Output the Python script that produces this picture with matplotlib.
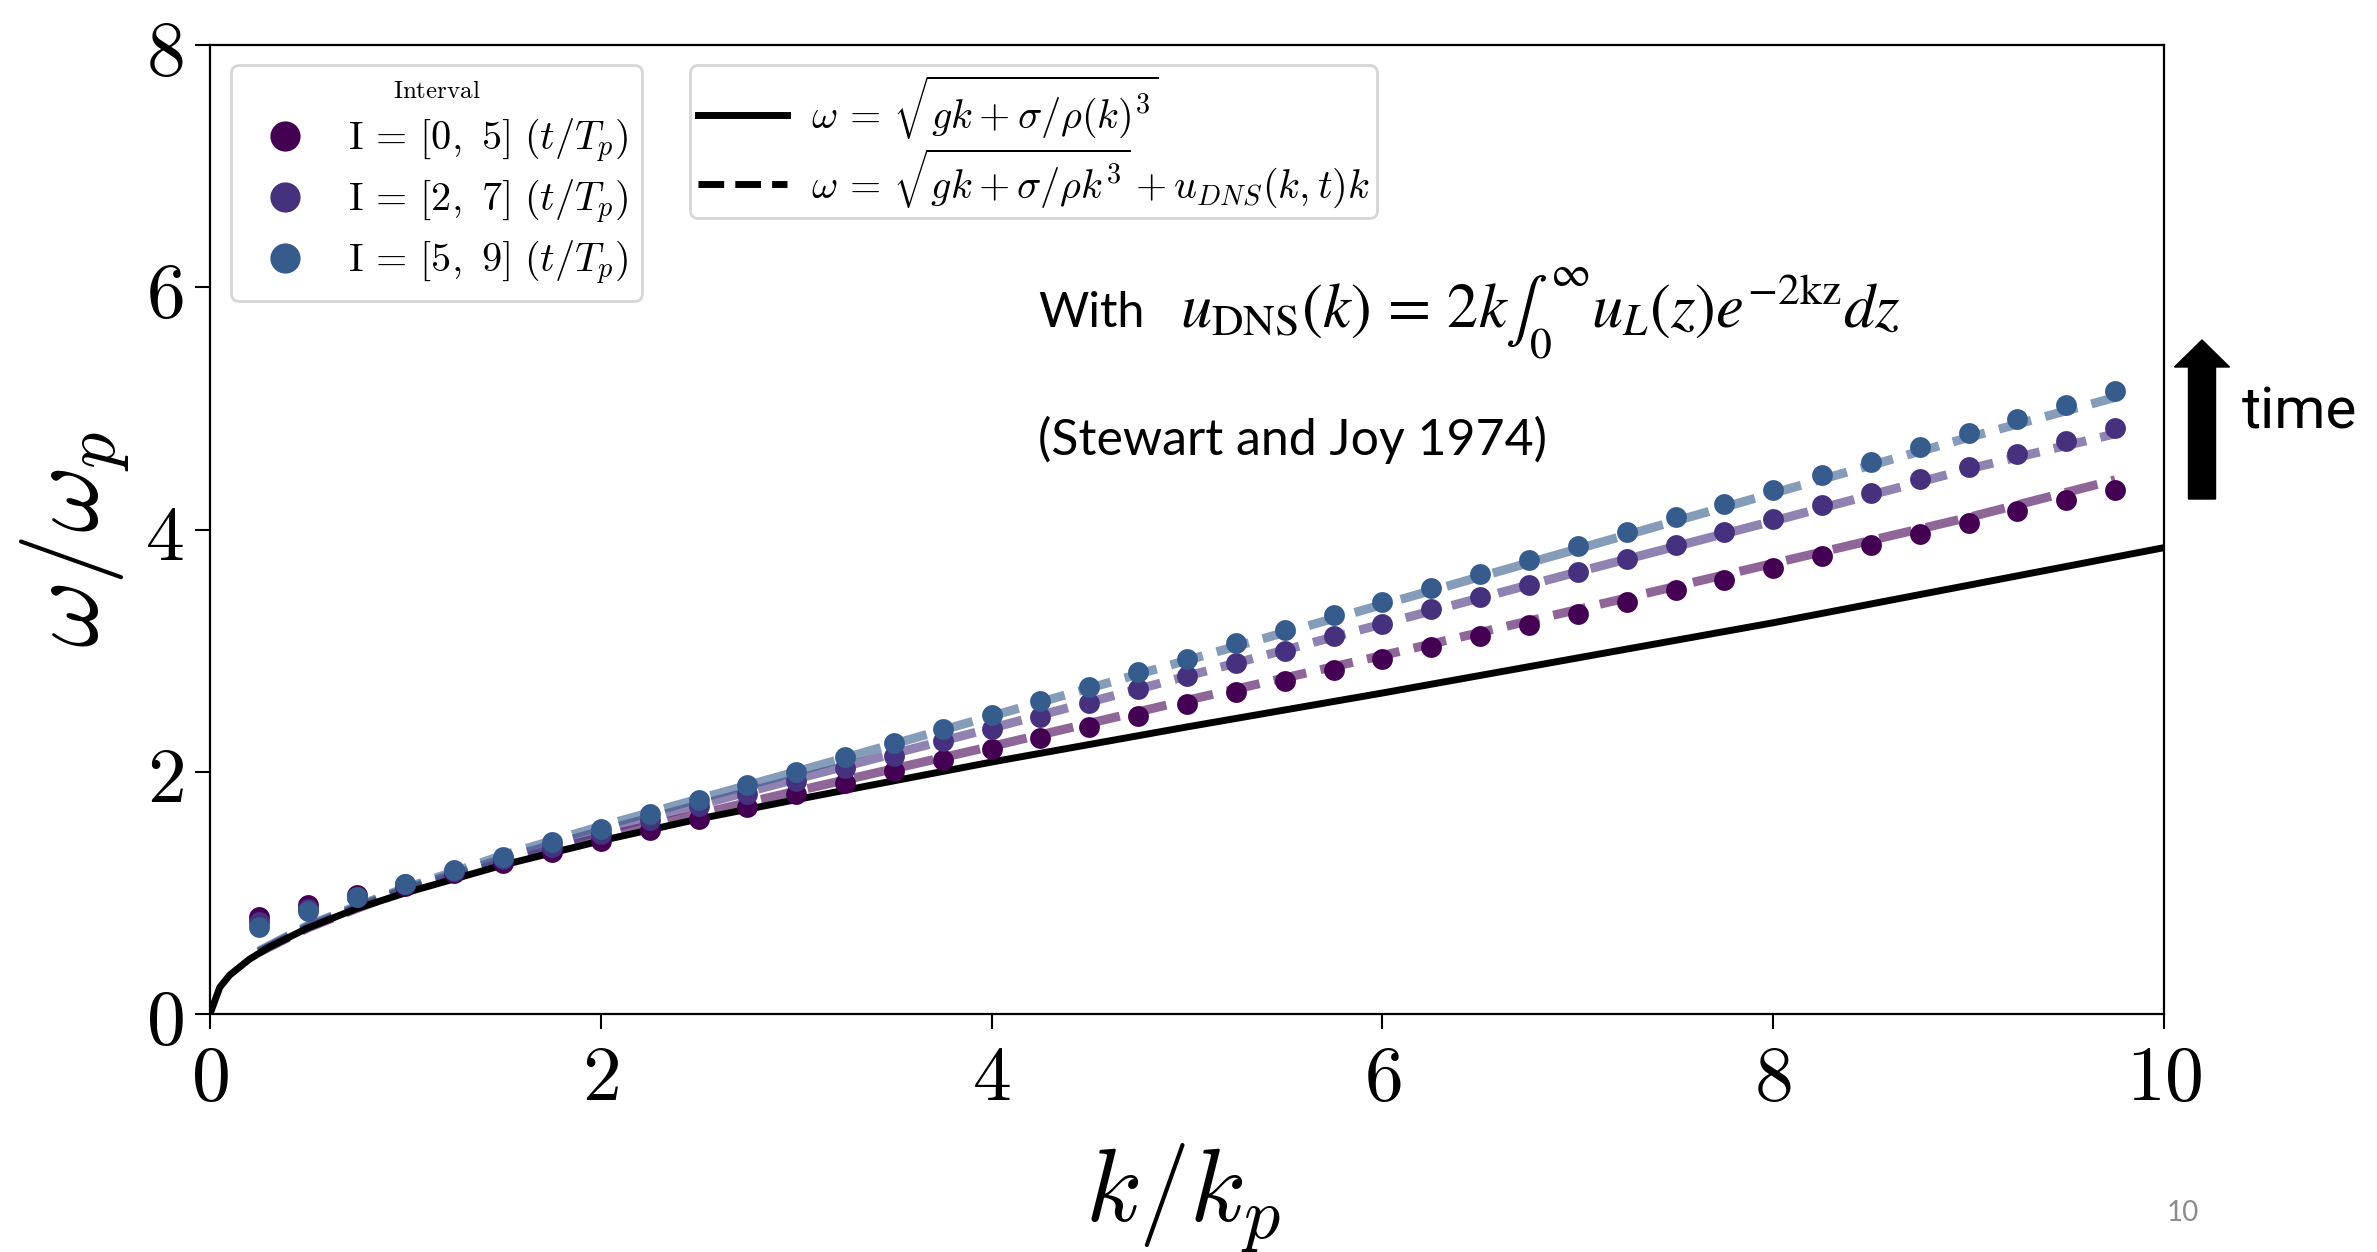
import matplotlib
matplotlib.use('Agg')
import matplotlib.pyplot as plt
from matplotlib.lines import Line2D
from matplotlib.patches import FancyArrow

plt.rcParams['mathtext.fontset'] = 'cm'
plt.rcParams['axes.unicode_minus'] = False

# ---------------- data ----------------
k_theory = [0, 0.05, 0.1, 0.2, 0.3, 0.5, 0.75, 1.0, 1.5, 2.0, 2.5, 3.0, 4.0, 5.0,
            6.0, 7.0, 8.0, 9.0, 10.0]
omega_theory = [0.0, 0.22, 0.32, 0.45, 0.55, 0.71, 0.87, 1.00, 1.23, 1.43, 1.61, 1.77,
                2.08, 2.37, 2.65, 2.94, 3.23, 3.54, 3.85]

k_points = [0.25, 0.5, 0.75, 1.0, 1.25, 1.5, 1.75, 2.0, 2.25, 2.5, 2.75, 3.0, 3.25,
            3.5, 3.75, 4.0, 4.25, 4.5, 4.75, 5.0, 5.25, 5.5, 5.75, 6.0, 6.25, 6.5,
            6.75, 7.0, 7.25, 7.5, 7.75, 8.0, 8.25, 8.5, 8.75, 9.0, 9.25, 9.5, 9.75]
omega_I05 = [0.80, 0.90, 0.98, 1.06, 1.16, 1.25, 1.34, 1.43, 1.52, 1.61, 1.71, 1.82,
             1.91, 2.01, 2.10, 2.19, 2.28, 2.37, 2.46, 2.56, 2.66, 2.75, 2.84, 2.93,
             3.03, 3.12, 3.21, 3.30, 3.40, 3.50, 3.58, 3.68, 3.78, 3.87, 3.96, 4.05,
             4.15, 4.24, 4.33]
omega_I27 = [0.76, 0.87, 0.97, 1.07, 1.18, 1.28, 1.38, 1.49, 1.60, 1.72, 1.82, 1.92,
             2.03, 2.13, 2.25, 2.35, 2.45, 2.57, 2.68, 2.79, 2.90, 3.00, 3.12, 3.22,
             3.34, 3.44, 3.54, 3.65, 3.76, 3.87, 3.98, 4.09, 4.20, 4.30, 4.42, 4.52,
             4.62, 4.73, 4.84]
omega_I59 = [0.72, 0.85, 0.97, 1.07, 1.19, 1.30, 1.42, 1.53, 1.65, 1.77, 1.89, 2.00,
             2.12, 2.24, 2.35, 2.47, 2.58, 2.70, 2.82, 2.93, 3.06, 3.17, 3.29, 3.40,
             3.52, 3.63, 3.75, 3.86, 3.98, 4.10, 4.21, 4.33, 4.45, 4.56, 4.68, 4.80,
             4.91, 5.03, 5.14]

k_fit = [0.25, 0.5, 0.75, 1.0, 1.5, 2.0, 3.0, 4.0, 5.0, 6.0, 7.0, 8.0, 9.0, 9.75]
fit_I05 = [0.51, 0.71, 0.87, 1.02, 1.25, 1.46, 1.84, 2.21, 2.59, 2.96, 3.34, 3.72, 4.10, 4.41]
fit_I27 = [0.51, 0.72, 0.88, 1.03, 1.28, 1.51, 1.94, 2.36, 2.79, 3.22, 3.65, 4.07, 4.50, 4.79]
fit_I59 = [0.52, 0.73, 0.89, 1.04, 1.31, 1.55, 2.00, 2.46, 2.92, 3.38, 3.84, 4.30, 4.76, 5.09]

interval_labels = [r'$\mathrm{I}\,=\,[0,\ 5]\ (t/T_p)$',
                   r'$\mathrm{I}\,=\,[2,\ 7]\ (t/T_p)$',
                   r'$\mathrm{I}\,=\,[5,\ 9]\ (t/T_p)$']
model_labels = [r'$\omega\,=\,\sqrt{gk+\sigma/\rho(k)^3}$',
                r'$\omega\,=\,\sqrt{gk+\sigma/\rho k^3}+u_{DNS}(k,t)k$']
x_ticks = [0, 2, 4, 6, 8, 10]
y_ticks = [0, 2, 4, 6, 8]
colors = ['#440154', '#46317e', '#365c8d']

# ---------------- figure ----------------
W, H = 2377, 1252
fig = plt.figure(figsize=(W / 100, H / 100), dpi=100)
ax = fig.add_axes([210 / W, 1 - 1014 / H, (2164 - 210) / W, (1014 - 45) / H])

for fit, c in zip([fit_I05, fit_I27, fit_I59], colors):
    ax.plot(k_fit, fit, ls='--', lw=6.5, color=c, alpha=0.6, zorder=2)

ax.plot(k_theory, omega_theory, color='black', lw=5, zorder=3)

point_handles = []
for vals, c, lab in zip([omega_I05, omega_I27, omega_I59], colors, interval_labels):
    h, = ax.plot(k_points, vals, 'o', ms=15, color=c, label=lab, zorder=4, mec='none')
    point_handles.append(h)

ax.set_xlim(0, 10)
ax.set_ylim(0, 8)
ax.set_xticks(x_ticks)
ax.set_xticklabels([f'${t}$' for t in x_ticks])
ax.set_yticks(y_ticks)
ax.set_yticklabels([f'${t}$' for t in y_ticks])
ax.tick_params(direction='out', length=11, width=1.5, labelsize=56, pad=8)
for s in ax.spines.values():
    s.set_linewidth(1.6)

ax.set_xlabel(r'$k/k_p$', fontsize=74, va='center')
ax.xaxis.set_label_coords(0.498, -0.19)
ax.set_ylabel(r'$\omega/\omega_p$', fontsize=74, va='center')
ax.yaxis.set_label_coords(-0.069, 0.49)

leg1 = ax.legend(handles=point_handles, title=r'$\mathrm{Interval}$', loc='upper left',
                 bbox_to_anchor=(0.0107, 0.979), borderaxespad=0, fontsize=29,
                 title_fontsize=18, markerscale=1.45, handletextpad=0.55,
                 labelspacing=0.32, borderpad=0.35)
leg1.get_frame().set_linewidth(2)
ax.add_artist(leg1)

model_handles = [Line2D([], [], color='black', lw=5),
                 Line2D([], [], color='black', lw=5, ls='--')]
leg2 = ax.legend(handles=model_handles, labels=model_labels, loc='upper left',
                 bbox_to_anchor=(0.2456, 0.979), borderaxespad=0, fontsize=29,
                 handlelength=2.2, labelspacing=0.12, borderpad=0.2,
                 handletextpad=0.6)
leg2.get_frame().set_linewidth(2)

# ---------------- annotations ----------------
def fx(x):
    return x / W

def fy(y):
    return 1 - y / H

fig.text(fx(1038), fy(327), 'With', fontsize=35, family=['Lato', 'DejaVu Sans'],
         va='baseline', ha='left')
fig.text(fx(1180), fy(327), r'$u_{\mathrm{DNS}}(k)\,=\,2k\int_0^{\infty}u_L(z)e^{-2\mathrm{kz}}dz$',
         fontsize=45, math_fontfamily='stix', va='baseline', ha='left')
fig.text(fx(1038), fy(455), '(Stewart and Joy 1974)', fontsize=36,
         family=['Lato', 'DejaVu Sans'], va='baseline', ha='left')

arrow = FancyArrow(2202 / 100, (H - 499) / 100, 0, (499 - 340) / 100, width=0.27,
                   head_width=0.55, head_length=0.27, length_includes_head=True,
                   color='black', transform=fig.dpi_scale_trans)
fig.add_artist(arrow)
fig.text(fx(2242), fy(413), 'time', fontsize=42, family=['Roboto', 'DejaVu Sans'],
         va='center', ha='left')

fig.text(fx(2183), fy(1213), '10', fontsize=20, color='#8c8c8c',
         family=['Lato', 'DejaVu Sans'], va='center', ha='center')

fig.savefig('out.png', dpi=100)
